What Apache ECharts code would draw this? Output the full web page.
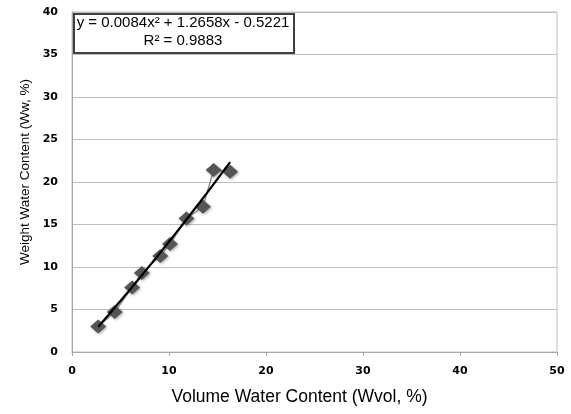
<!DOCTYPE html>
<html><head><meta charset="utf-8">
<script src="https://cdn.jsdelivr.net/npm/echarts@6/dist/echarts.min.js"></script>
<style>html,body{margin:0;padding:0;background:#fff}#c{width:571px;height:414px}</style>
</head><body><div id="c"></div>
<script>
const volWater = [2.7, 4.4, 6.2, 7.2, 9.1, 10.1, 11.8, 13.5, 14.6, 16.3];
const weightWater = [3.0, 4.7, 7.6, 9.3, 11.3, 12.7, 15.7, 17.1, 21.4, 21.2];
const trendCoef = [0.0084, 1.2658, -0.5221];
const eqText = ['y = 0.0084x\u00b2 + 1.2658x - 0.5221', 'R\u00b2 = 0.9883'];
const xTitle = 'Volume Water Content (Wvol, %)';
const yTitle = 'Weight Water Content (Ww, %)';

const pts = volWater.map((x, i) => [x, weightWater[i]]);
const xmin = Math.min(...volWater), xmax = Math.max(...volWater);
const trend = [];
for (let k = 0; k <= 40; k++) {
  const x = xmin + (xmax - xmin) * k / 40;
  trend.push([x, trendCoef[0] * x * x + trendCoef[1] * x + trendCoef[2]]);
}
const chart = echarts.init(document.getElementById('c'));
chart.setOption({
  animation: false,
  grid: {left: 72, right: 14, top: 12, bottom: 62, show: true, borderColor: '#bfbfbf', borderWidth: 1},
  xAxis: {
    type: 'value', min: 0, max: 50, interval: 10,
    axisLine: {lineStyle: {color: '#a6a6a6'}},
    axisTick: {show: true, length: 4, lineStyle: {color: '#a6a6a6'}},
    splitLine: {show: false},
    axisLabel: {color: '#000', fontFamily: 'DejaVu Sans', fontWeight: 'bold', fontSize: 11, margin: 14},
    name: xTitle, nameLocation: 'middle', nameGap: 36,
    nameTextStyle: {color: '#000', fontFamily: 'Liberation Sans', fontSize: 17.5, padding: [0, 30, 0, 0]}
  },
  yAxis: {
    type: 'value', min: 0, max: 40, interval: 5,
    axisLine: {show: true, lineStyle: {color: '#a6a6a6'}},
    axisTick: {show: false},
    splitLine: {show: true, lineStyle: {color: '#bfbfbf'}},
    axisLabel: {color: '#000', fontFamily: 'DejaVu Sans', fontWeight: 'bold', fontSize: 11, margin: 14},
    name: yTitle, nameLocation: 'middle', nameGap: 40,
    nameTextStyle: {color: '#000', fontFamily: 'Liberation Sans', fontSize: 13.5, padding: [0, 0, 0, 20]}
  },
  series: [
    {type: 'line', data: pts, symbol: 'diamond', symbolSize: [16, 14],
     lineStyle: {color: '#8c8c8c', width: 1.5},
     itemStyle: {color: '#555555', shadowColor: 'rgba(0,0,0,0.35)', shadowBlur: 3, shadowOffsetX: 1, shadowOffsetY: 1}, z: 2},
    {type: 'line', data: trend, symbol: 'none', smooth: false,
     lineStyle: {color: '#000', width: 2.2}, z: 3}
  ],
  graphic: [
    {type: 'rect', left: 73, top: 13, shape: {width: 220, height: 39},
     style: {fill: '#fff', stroke: '#404040', lineWidth: 2}, z: 10},
    {type: 'text', x: 183, y: 23, style: {text: eqText[0], fontFamily: 'Liberation Sans', fontSize: 15, fill: '#000', align: 'center', verticalAlign: 'middle'}, z: 11},
    {type: 'text', x: 183, y: 41, style: {text: eqText[1], fontFamily: 'Liberation Sans', fontSize: 15, fill: '#000', align: 'center', verticalAlign: 'middle'}, z: 11}
  ]
});
</script></body></html>
